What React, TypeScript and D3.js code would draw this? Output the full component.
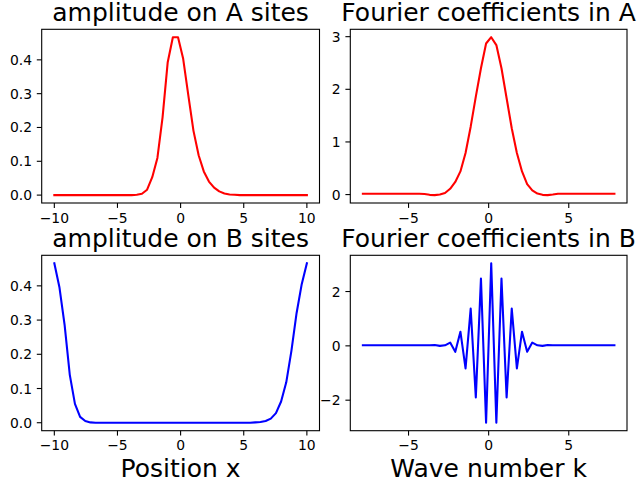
import React from "react";
import * as d3 from "d3";

const width = 640;
const height = 480;

// sample grids (np.linspace style)
const linspace = (a: number, b: number, n: number) =>
  d3.range(n).map((i) => a + ((b - a) * i) / (n - 1));
const positions = linspace(-10, 10, 50);
const waveNumbers = linspace(-7.85, 7.85, 50);

// amplitude
const ampA = [
  0, 0, 0, 0, 0, 0, 0, 0, 0, 0, 0, 0, 0, 0, 0, 0,
  0.001, 0.004, 0.016, 0.053, 0.11, 0.23, 0.393, 0.467, 0.467, 0.403,
  0.295, 0.19, 0.118, 0.07, 0.04, 0.022, 0.011, 0.005, 0.002, 0.001,
  0, 0, 0, 0, 0, 0, 0, 0, 0, 0, 0, 0, 0, 0,
];
const ampB = [
  0.466, 0.395, 0.285, 0.14, 0.055, 0.017, 0.005, 0.001,
  0, 0, 0, 0, 0, 0, 0, 0, 0, 0, 0, 0, 0, 0, 0, 0, 0, 0, 0, 0, 0, 0, 0,
  0, 0, 0, 0, 0, 0, 0, 0,
  0.001, 0.002, 0.005, 0.012, 0.028, 0.062, 0.118, 0.21, 0.32, 0.405, 0.466,
];
const fourierA = [
  0.015, 0.015, 0.015, 0.015, 0.015, 0.015, 0.015, 0.015, 0.015, 0.015, 0.015, 0.015,
  0.01, -0.005, -0.01, 0.0, 0.03, 0.11, 0.24, 0.44, 0.79, 1.29, 1.86, 2.4, 2.87,
  2.99, 2.84, 2.4, 1.83, 1.26, 0.79, 0.44, 0.2, 0.08, 0.02, -0.005, -0.01, 0.0,
  0.015, 0.015, 0.015, 0.015, 0.015, 0.015, 0.015, 0.015, 0.015, 0.015, 0.015, 0.015,
];
const fourierB = [
  0.02, 0.02, 0.02, 0.02, 0.02, 0.02, 0.02, 0.02, 0.02, 0.02, 0.02, 0.02, 0.02, 0.02,
  0.03, 0.0, 0.02, 0.12, -0.22, 0.52, -0.83, 1.37, -1.9, 2.48, -2.83, 3.04,
  -2.83, 2.48, -1.9, 1.37, -0.83, 0.52, -0.22, 0.12, 0.02, 0.0, 0.03,
  0.02, 0.02, 0.02, 0.02, 0.02, 0.02, 0.02, 0.02, 0.02, 0.02, 0.02, 0.02, 0.02,
];

const posTicks = [-10, -5, 0, 5, 10];
const waveTicks = [-5, 0, 5];
const ampTicks = [0, 0.1, 0.2, 0.3, 0.4];
const fourierATicks = [0, 1, 2, 3];
const fourierBTicks = [-2, 0, 2];

const font = "DejaVu Sans";
const fmtInt = (v: number) => d3.format("d")(v).replace("-", "\u2212");
const fmt1 = (v: number) => d3.format(".1f")(v).replace("-", "\u2212");

type PanelProps = {
  box: [number, number, number, number]; // left, right, top, bottom
  xs: number[];
  ys: number[];
  color: string;
  title: string;
  xlabel?: string;
  xTicks: number[];
  yTicks: number[];
  yFmt: (v: number) => string;
};

const pad = (ext: [number, number]): [number, number] => {
  const m = (ext[1] - ext[0]) * 0.05;
  return [ext[0] - m, ext[1] + m];
};

const Panel = ({ box, xs, ys, color, title, xlabel, xTicks, yTicks, yFmt }: PanelProps) => {
  const [l, r, t, b] = box;
  const x = d3.scaleLinear().domain(pad(d3.extent(xs) as [number, number])).range([l, r]);
  const y = d3.scaleLinear().domain(pad(d3.extent(ys) as [number, number])).range([b, t]);
  const line = d3
    .line<number>()
    .x((_, i) => x(xs[i]))
    .y((d) => y(d));
  return (
    <g>
      <path
        d={line(ys) || ""}
        fill="none"
        stroke={color}
        strokeWidth={2.08}
        strokeLinejoin="round"
        strokeLinecap="square"
      />
      <rect x={l} y={t} width={r - l} height={b - t} fill="none" stroke="black" strokeWidth={1.1} />
      {xTicks.map((v) => (
        <g key={"x" + v}>
          <line x1={x(v)} x2={x(v)} y1={b} y2={b + 4.9} stroke="black" strokeWidth={1.1} />
          <text x={x(v)} y={b + 19.7} textAnchor="middle" fontSize={13.9} fontFamily={font}>
            {fmtInt(v)}
          </text>
        </g>
      ))}
      {yTicks.map((v) => (
        <g key={"y" + v}>
          <line x1={l - 4.9} x2={l} y1={y(v)} y2={y(v)} stroke="black" strokeWidth={1.1} />
          <text x={l - 9.7} y={y(v) + 5} textAnchor="end" fontSize={13.9} fontFamily={font}>
            {yFmt(v)}
          </text>
        </g>
      ))}
      <text x={(l + r) / 2} y={t - 8.5} textAnchor="middle" fontSize={25} fontFamily={font}>
        {title}
      </text>
      {xlabel && (
        <text x={(l + r) / 2} y={477} textAnchor="middle" fontSize={25} fontFamily={font}>
          {xlabel}
        </text>
      )}
    </g>
  );
};

const App = () => {
  return (
    <svg
      width={width}
      height={height}
      style={{ position: "absolute", left: 0, top: 0, background: "white" }}
    >
      <Panel
        box={[41.7, 319.5, 29.3, 203]}
        xs={positions}
        ys={ampA}
        color="red"
        title="amplitude on A sites"
        xTicks={posTicks}
        yTicks={ampTicks}
        yFmt={fmt1}
      />
      <Panel
        box={[350.3, 627, 29.3, 203]}
        xs={waveNumbers}
        ys={fourierA}
        color="red"
        title="Fourier coefficients in A"
        xTicks={waveTicks}
        yTicks={fourierATicks}
        yFmt={fmtInt}
      />
      <Panel
        box={[41.7, 319.5, 255.3, 430.7]}
        xs={positions}
        ys={ampB}
        color="blue"
        title="amplitude on B sites"
        xlabel="Position x"
        xTicks={posTicks}
        yTicks={ampTicks}
        yFmt={fmt1}
      />
      <Panel
        box={[350.3, 627, 255.3, 430.7]}
        xs={waveNumbers}
        ys={fourierB}
        color="blue"
        title="Fourier coefficients in B"
        xlabel="Wave number k"
        xTicks={waveTicks}
        yTicks={fourierBTicks}
        yFmt={fmtInt}
      />
    </svg>
  );
};

export default App;
